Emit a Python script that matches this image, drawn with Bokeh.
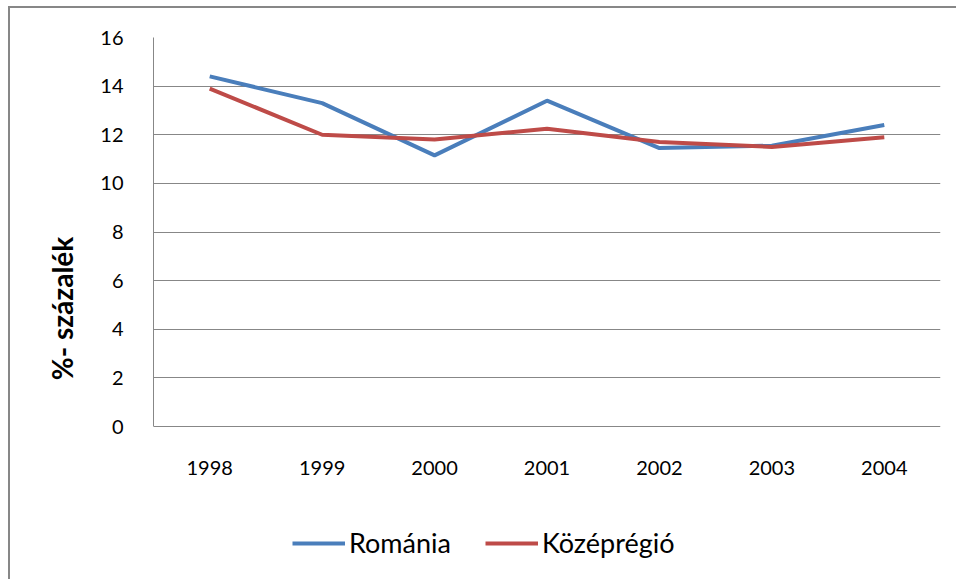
from bokeh.plotting import figure
from bokeh.models import Legend, LegendItem, FixedTicker, Range1d
from bokeh.core.properties import value
from bokeh.embed import file_html
from bokeh.resources import INLINE

years = ["1998", "1999", "2000", "2001", "2002", "2003", "2004"]
romania = [14.4, 13.3, 11.15, 13.4, 11.45, 11.55, 12.4]
kozepregio = [13.9, 12.0, 11.8, 12.25, 11.7, 11.5, 11.9]
y_ticks = [0, 2, 4, 6, 8, 10, 12, 14, 16]

FONT = "Lato"
GRID = "#878787"

# plot area: 0..16 occupies 389 px; the frame is extended downward so the
# category labels and the legend can sit inside it
PX_PER_UNIT = 389 / 16
FRAME_H = 542
Y_MIN = 16 - FRAME_H / PX_PER_UNIT
LABEL_Y = -41 / PX_PER_UNIT

p = figure(x_range=years, y_range=Range1d(Y_MIN, 16),
           frame_width=787, frame_height=FRAME_H,
           x_axis_location=None,
           output_backend="svg", toolbar_location=None,
           min_border_left=143, min_border_right=16,
           min_border_top=29, min_border_bottom=0)
p.styles = {"border-left": "2px solid #878787", "border-top": "2px solid #878787",
            "margin-left": "8px", "margin-top": "6px"}
p.outline_line_color = None
p.x_range.range_padding = 0

r1 = p.line(years, romania, line_color="#4a7ebb", line_width=4)
r2 = p.line(years, kozepregio, line_color="#be4b48", line_width=4)

# category labels under the 0 line
p.text(x=years, y=[LABEL_Y] * len(years), text=years,
       text_align="center", text_baseline="middle",
       text_font=value(FONT), text_font_size="20px", text_color="#000000")

p.yaxis.ticker = FixedTicker(ticks=y_ticks)
p.yaxis.bounds = (0, 16)
p.ygrid.grid_line_color = GRID
p.xgrid.grid_line_color = None
p.yaxis.axis_line_color = GRID
p.yaxis.major_tick_line_color = None
p.yaxis.minor_tick_line_color = None
p.yaxis.major_label_text_font = FONT
p.yaxis.major_label_text_font_size = "20px"
p.yaxis.major_label_text_color = "#000000"
p.yaxis.major_label_standoff = 24
p.yaxis.axis_label = "%- százalék"
p.yaxis.axis_label_text_font = FONT
p.yaxis.axis_label_text_font_size = "28px"
p.yaxis.axis_label_text_font_style = "bold"
p.yaxis.axis_label_text_color = "#000000"
p.yaxis.axis_label_standoff = 18

legend = Legend(items=[LegendItem(label="Románia", renderers=[r1]),
                       LegendItem(label="Középrégió", renderers=[r2])],
                orientation="horizontal", location=(139, 20),
                border_line_color=None, background_fill_alpha=0,
                padding=0, margin=0, glyph_width=53, glyph_height=22,
                label_standoff=4, spacing=34,
                label_text_font=FONT, label_text_font_size="27px",
                label_text_color="#000000")
p.add_layout(legend)

open("out.html", "w").write(file_html(p, INLINE))
